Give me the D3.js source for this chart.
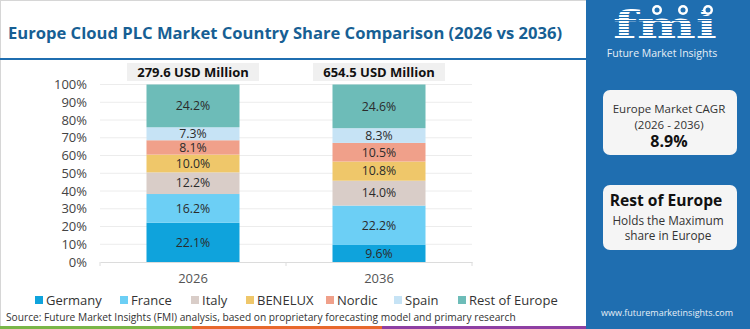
<!DOCTYPE html>
<html>
<head>
<meta charset="utf-8">
<script src="https://cdn.jsdelivr.net/npm/d3@7"></script>
<style>
  html, body { margin: 0; padding: 0; background: #fff; }
  svg { display: block; font-family: "Open Sans", "Noto Sans", sans-serif; }
</style>
</head>
<body>
<svg id="chart" width="750" height="329"></svg>
<script>
// Country shares of the Europe Cloud PLC market, by year (percent)
const years = ["2026", "2036"];
const totals = ["279.6 USD Million", "654.5 USD Million"];
const countries = ["Germany", "France", "Italy", "BENELUX", "Nordic", "Spain", "Rest of Europe"];
const colors = ["#0fa3dc", "#6ccff5", "#d9cdc8", "#efc76a", "#f0a08a", "#c6e3f5", "#6dbcb8"];
const share2026 = [22.1, 16.2, 12.2, 10.0, 8.1, 7.3, 24.2];
const share2036 = [9.6, 22.2, 14.0, 10.8, 10.5, 8.3, 24.6];
const yTicks = [0, 10, 20, 30, 40, 50, 60, 70, 80, 90, 100];

const cagrLines = ["Europe Market CAGR", "(2026 - 2036)"];
const cagrValue = "8.9%";
const leaderName = "Rest of Europe";
const leaderLines = ["Holds the Maximum", "share in Europe"];

const svg = d3.select("#chart");
const W = 750, H = 329;
const blue = "#1f6eb0";
const titleBlue = "#175f94";
const font = "'Open Sans', sans-serif";

// outer frame
svg.append("rect").attr("x", 0.5).attr("y", 0.5).attr("width", W - 1).attr("height", H - 1)
  .attr("fill", "#fff").attr("stroke", "#d6d6d6");

// title
svg.append("text").attr("x", 8).attr("y", 39)
  .attr("font-size", 16.6).attr("font-weight", 700).attr("fill", titleBlue)
  .attr("font-family", font)
  .text("Europe Cloud PLC Market Country Share Comparison (2026 vs 2036)");
svg.append("rect").attr("x", 0).attr("y", 58).attr("width", 586).attr("height", 2).attr("fill", blue);

// scales
const x = d3.scaleBand().domain(years).range([100, 472]).paddingInner(0.5).paddingOuter(0.25);
const y = d3.scaleLinear().domain([0, 100]).range([262, 84.5]);

// gridlines
svg.append("g").selectAll("line").data(yTicks.slice(1)).join("line")
  .attr("x1", 100).attr("x2", 472)
  .attr("y1", d => y(d)).attr("y2", d => y(d))
  .attr("stroke", "#ececec").attr("stroke-width", 1);

// y axis labels
const yAxis = d3.axisLeft(y).tickValues(yTicks).tickFormat(d => d + "%").tickSize(0).tickPadding(0);
const gy = svg.append("g").attr("transform", "translate(87,0)").call(yAxis);
gy.select(".domain").remove();
gy.selectAll("text").attr("font-size", 13).attr("fill", "#444").attr("font-family", font);

// x axis
const xAxis = d3.axisBottom(x).tickSize(0).tickPadding(12);
const gx = svg.append("g").attr("transform", `translate(0,${y(0)})`).call(xAxis);
gx.select(".domain").attr("stroke", "#dcdcdc");
gx.selectAll("text").attr("font-size", 13).attr("fill", "#555").attr("font-family", font);
const step = x.step();
const bounds = [x(years[0]) - step * 0.25].concat(years.map(yr => x(yr) + x.bandwidth() + step * 0.25));
gx.selectAll(".bound").data(bounds).join("line").attr("class", "bound")
  .attr("x1", d => d).attr("x2", d => d).attr("y1", 0).attr("y2", 4)
  .attr("stroke", "#dcdcdc");

// stacked bars
const rows = years.map((yr, i) => {
  const vals = i === 0 ? share2026 : share2036;
  const o = { year: yr };
  countries.forEach((c, j) => o[c] = vals[j]);
  return o;
});
const stack = d3.stack().keys(countries)(rows);
const color = d3.scaleOrdinal().domain(countries).range(colors);

const layers = svg.append("g").selectAll("g").data(stack).join("g")
  .attr("fill", d => color(d.key));
layers.selectAll("rect").data(d => d).join("rect")
  .attr("x", d => x(d.data.year))
  .attr("width", x.bandwidth())
  .attr("y", d => y(Math.min(d[1], 100)))
  .attr("height", d => y(d[0]) - y(Math.min(d[1], 100)));

layers.selectAll("text").data(d => d.map(s => ({ s, key: d.key }))).join("text")
  .attr("x", d => x(d.s.data.year) + x.bandwidth() / 2)
  .attr("y", d => (y(d.s[0]) + y(Math.min(d.s[1], 100))) / 2)
  .attr("dy", "0.35em")
  .attr("text-anchor", "middle")
  .attr("font-size", 12.3).attr("fill", "#2b2b2b")
  .attr("font-family", font)
  .text(d => d.s.data[d.key].toFixed(1) + "%");

// total labels above bars
const tot = svg.append("g").selectAll("g").data(years).join("g");
tot.append("rect")
  .attr("x", d => x(d) + x.bandwidth() / 2 - 66)
  .attr("y", 63).attr("width", 132).attr("height", 18)
  .attr("fill", "#f0f0f0");
tot.append("text")
  .attr("x", d => x(d) + x.bandwidth() / 2).attr("y", 77)
  .attr("text-anchor", "middle").attr("font-size", 13).attr("font-weight", 700)
  .attr("fill", "#111").attr("font-family", font)
  .text((d, i) => totals[i]);

// legend
const legendX = [35, 120, 191, 246, 326, 394, 458];
const lg = svg.append("g").selectAll("g").data(countries).join("g")
  .attr("transform", (d, i) => `translate(${legendX[i]},300)`);
lg.append("rect").attr("x", 0).attr("y", -4).attr("width", 8).attr("height", 8)
  .attr("fill", d => color(d));
lg.append("text").attr("x", 11).attr("dy", "0.35em")
  .attr("font-size", 13).attr("fill", "#333").attr("font-family", font)
  .text(d => d);

// source line
svg.append("text").attr("x", 6).attr("y", 321)
  .attr("font-size", 10.2).attr("fill", "#333").attr("font-family", font)
  .text("Source: Future Market Insights (FMI) analysis, based on proprietary forecasting model and primary research");

// bottom colour strip
[["#7ab648", 0, 192], ["#e8682d", 192, 382], ["#8e3fa3", 382, 586]].forEach(([c, a, b]) => {
  svg.append("rect").attr("x", a).attr("y", 326).attr("width", b - a).attr("height", 3).attr("fill", c);
});

// right-hand panel
svg.append("rect").attr("x", 586).attr("y", 0).attr("width", W - 586).attr("height", H).attr("fill", blue);

// striped logo
const defs = svg.append("defs");
const pat = defs.append("pattern").attr("id", "stripes").attr("patternUnits", "userSpaceOnUse")
  .attr("width", 4).attr("height", 3);
pat.append("rect").attr("width", 4).attr("height", 2).attr("fill", "#fff");
svg.append("text").attr("x", 613).attr("y", 38)
  .attr("font-size", 38).attr("font-weight", 700)
  .attr("textLength", 104).attr("lengthAdjust", "spacingAndGlyphs")
  .attr("font-family", "'DejaVu Serif', serif")
  .attr("fill", "url(#stripes)").text("fmi");
[657, 683, 708].forEach(cx => {
  svg.append("circle").attr("cx", cx).attr("cy", 10).attr("r", 5).attr("fill", "#fff");
  svg.append("circle").attr("cx", cx).attr("cy", 10).attr("r", 2.5).attr("fill", blue);
});
svg.append("text").attr("x", 662).attr("y", 57).attr("text-anchor", "middle")
  .attr("font-size", 10.5).attr("fill", "#e6eef7").attr("font-family", font)
  .text("Future Market Insights");

// CAGR card
svg.append("rect").attr("x", 603).attr("y", 90).attr("width", 134).attr("height", 65)
  .attr("rx", 7).attr("fill", "#f5f5f5");
cagrLines.forEach((t, i) => {
  svg.append("text").attr("x", 669).attr("y", 113 + i * 16).attr("text-anchor", "middle")
    .attr("font-size", 11.5).attr("fill", "#333").attr("font-family", font).text(t);
});
svg.append("text").attr("x", 669).attr("y", 147).attr("text-anchor", "middle")
  .attr("font-size", 16).attr("font-weight", 700).attr("fill", "#111")
  .attr("font-family", font).text(cagrValue);

// leader card
svg.append("rect").attr("x", 603).attr("y", 185).attr("width", 134).attr("height", 65)
  .attr("rx", 7).attr("fill", "#f5f5f5");
svg.append("text").attr("x", 666).attr("y", 206).attr("text-anchor", "middle")
  .attr("font-size", 15.6).attr("font-weight", 700).attr("fill", "#111")
  .attr("font-family", font).text(leaderName);
leaderLines.forEach((t, i) => {
  svg.append("text").attr("x", 668).attr("y", 225 + i * 15).attr("text-anchor", "middle")
    .attr("font-size", 11.8).attr("fill", "#333").attr("font-family", font).text(t);
});

svg.append("text").attr("x", 667).attr("y", 316).attr("text-anchor", "middle")
  .attr("font-size", 9).attr("fill", "#e6eef7").attr("font-family", font)
  .text("www.futuremarketinsights.com");
</script>
</body>
</html>
